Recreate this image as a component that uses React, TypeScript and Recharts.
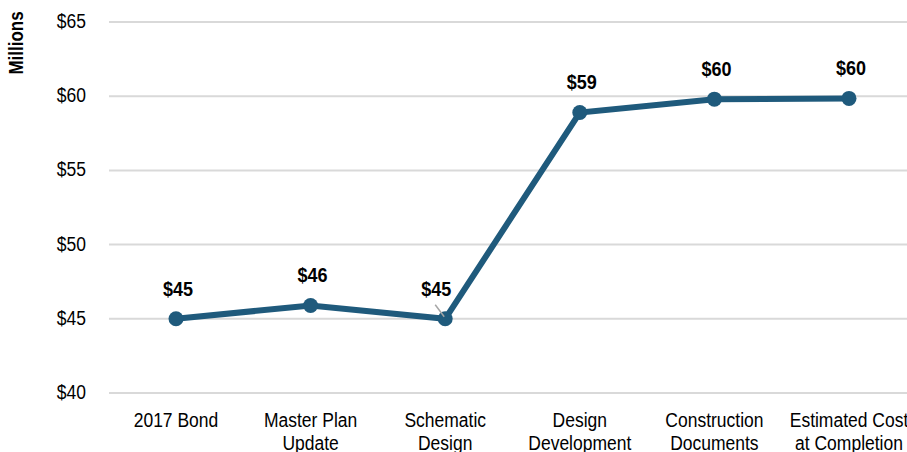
import React from "react";
import { LineChart, Line, XAxis, YAxis, CartesianGrid, LabelList, Label } from "recharts";

const categories = [
  "2017 Bond|",
  "Master Plan|Update",
  "Schematic|Design",
  "Design|Development",
  "Construction|Documents",
  "Estimated Cost|at Completion",
];
const costMillions = [45.0, 45.9, 45.0, 58.9, 59.8, 59.85];
const valueLabels = ["$45", "$46", "$45", "$59", "$60", "$60"];
const yTicks = [40, 45, 50, 55, 60, 65];

const data = categories.map((c, i) => ({ name: c, value: costMillions[i], label: valueLabels[i] }));

const FONT = "'Liberation Sans', Arial, sans-serif";
const LINE_COLOR = "#1f5a7c";
const FS = 17.5;
const STRETCH = 1.14;

const SText = ({ x, y, children, size = FS, bold = false, anchor = "middle", rotate = 0 }: any) => (
  <text
    x={0}
    y={0}
    transform={`translate(${x},${y}) rotate(${rotate}) scale(1,${STRETCH})`}
    textAnchor={anchor}
    dominantBaseline="central"
    fontFamily={FONT}
    fontSize={size}
    fontWeight={bold ? "bold" : "normal"}
    fill="#000"
  >
    {children}
  </text>
);

const XTick = (props: any) => {
  const { x, y, payload } = props;
  const lines = String(payload.value).split("|").filter((l) => l.length > 0);
  return (
    <g>
      {lines.map((l: string, i: number) => (
        <SText key={i} x={x} y={y + 27 + i * 23.5}>
          {l}
        </SText>
      ))}
    </g>
  );
};

const YTick = (props: any) => {
  const { x, y, payload } = props;
  return (
    <SText x={x} y={y - 1} anchor="end">
      {`$${payload.value}`}
    </SText>
  );
};

const ValueLabel = (props: any) => {
  const { x, y, index } = props;
  const text = valueLabels[index];
  return (
    <g>
      {index === 2 && (
        <line x1={x - 10} y1={y - 14} x2={x - 1} y2={y - 2} stroke="#a6a6a6" strokeWidth={1.5} />
      )}
      <SText x={index === 2 ? x - 9 : x + 2} y={y - 30} size={18} bold>
        {text}
      </SText>
    </g>
  );
};

const AxisTitle = () => (
  <SText x={17} y={43} size={17} bold rotate={-90}>
    Millions
  </SText>
);

export default function App() {
  return (
    <div
      style={{
        position: "fixed",
        left: 0,
        top: 0,
        width: 907,
        height: 452,
        overflow: "hidden",
        background: "#fff",
      }}
    >
      <LineChart
        width={925}
        height={480}
        data={data}
        margin={{ top: 22, right: 9, left: 0, bottom: 0 }}
      >
        <CartesianGrid vertical={false} stroke="#d9d9d9" strokeWidth={2} />
        <XAxis
          dataKey="name"
          axisLine={false}
          tickLine={false}
          interval={0}
          height={87}
          tick={<XTick />}
          tickSize={0}
          tickMargin={0}
          padding={{ left: 67, right: 67 }}
        />
        <YAxis
          domain={[40, 65]}
          ticks={yTicks}
          width={109}
          axisLine={false}
          tickLine={false}
          tickSize={0}
          tickMargin={23}
          tick={<YTick />}
        >
          <Label content={<AxisTitle />} />
        </YAxis>
        <Line
          type="linear"
          dataKey="value"
          stroke={LINE_COLOR}
          strokeWidth={6}
          dot={{ r: 7.5, fill: LINE_COLOR, stroke: LINE_COLOR, strokeWidth: 0 }}
          activeDot={false}
          isAnimationActive={false}
        >
          <LabelList dataKey="label" content={<ValueLabel />} />
        </Line>
      </LineChart>
    </div>
  );
}
